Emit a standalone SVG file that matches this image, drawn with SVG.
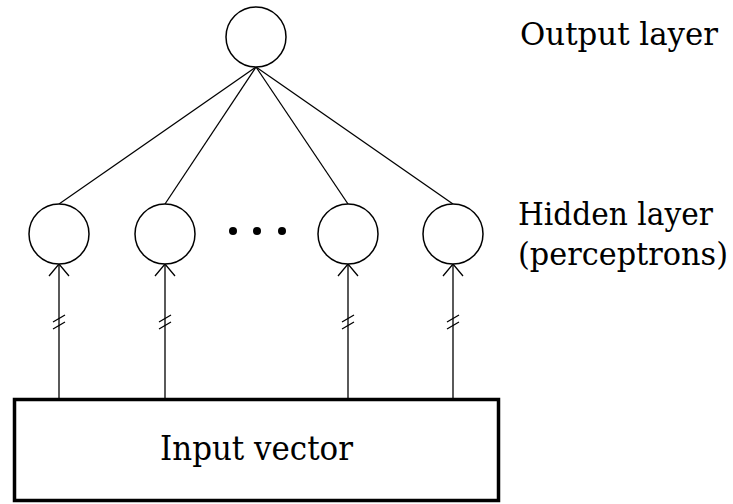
<svg xmlns="http://www.w3.org/2000/svg" width="733" height="504" viewBox="0 0 733 504">
<style>
.n{fill:#fff;stroke:#000;stroke-width:1.5}
.c line,.c path{stroke:#000;stroke-width:1.3;fill:none}
.t{font-family:'DejaVu Serif',serif;font-size:34px;fill:#000}
.r{font-size:31px}
</style>
<rect width="733" height="504" fill="#fff"/>
<g class="c" id="connectors">
<line x1="256" y1="67" x2="59" y2="204"/>
<line x1="256" y1="67" x2="165" y2="204"/>
<line x1="256" y1="67" x2="348" y2="204"/>
<line x1="256" y1="67" x2="453" y2="204"/>
<line x1="59" y1="398" x2="59" y2="264"/>
<line x1="165" y1="398" x2="165" y2="264"/>
<line x1="348" y1="398" x2="348" y2="264"/>
<line x1="453" y1="398" x2="453" y2="264"/>
<path d="M49,276 L59,264 L69,276"/>
<path d="M155,276 L165,264 L175,276"/>
<path d="M338,276 L348,264 L358,276"/>
<path d="M443,276 L453,264 L463,276"/>
<path d="M53,322 L65,315 M53,329 L65,322"/>
<path d="M159,322 L171,315 M159,329 L171,322"/>
<path d="M342,322 L354,315 M342,329 L354,322"/>
<path d="M447,322 L459,315 M447,329 L459,322"/>
</g>
<g id="output"><circle class="n" cx="256" cy="37" r="30"/></g>
<g id="h1"><circle class="n" cx="59" cy="234" r="30"/></g>
<g id="h2"><circle class="n" cx="165" cy="234" r="30"/></g>
<g id="dots"><circle cx="233" cy="231" r="4"/><circle cx="257" cy="231" r="4"/><circle cx="282" cy="231" r="4"/></g>
<g id="h3"><circle class="n" cx="348" cy="234" r="30"/></g>
<g id="h4"><circle class="n" cx="453" cy="234" r="30"/></g>
<g id="input">
<rect x="14.5" y="399.5" width="484" height="101" fill="#fff" stroke="#000" stroke-width="3.5"/>
<text class="t" x="160" y="460" textLength="193" lengthAdjust="spacingAndGlyphs">Input vector</text>
</g>
<g id="labels">
<text class="t r" x="520" y="45" textLength="198" lengthAdjust="spacingAndGlyphs">Output layer</text>
<text class="t r" x="518" y="225" textLength="195" lengthAdjust="spacingAndGlyphs">Hidden layer</text>
<text class="t r" x="518" y="265" textLength="210" lengthAdjust="spacingAndGlyphs">(perceptrons)</text>
</g>
</svg>
